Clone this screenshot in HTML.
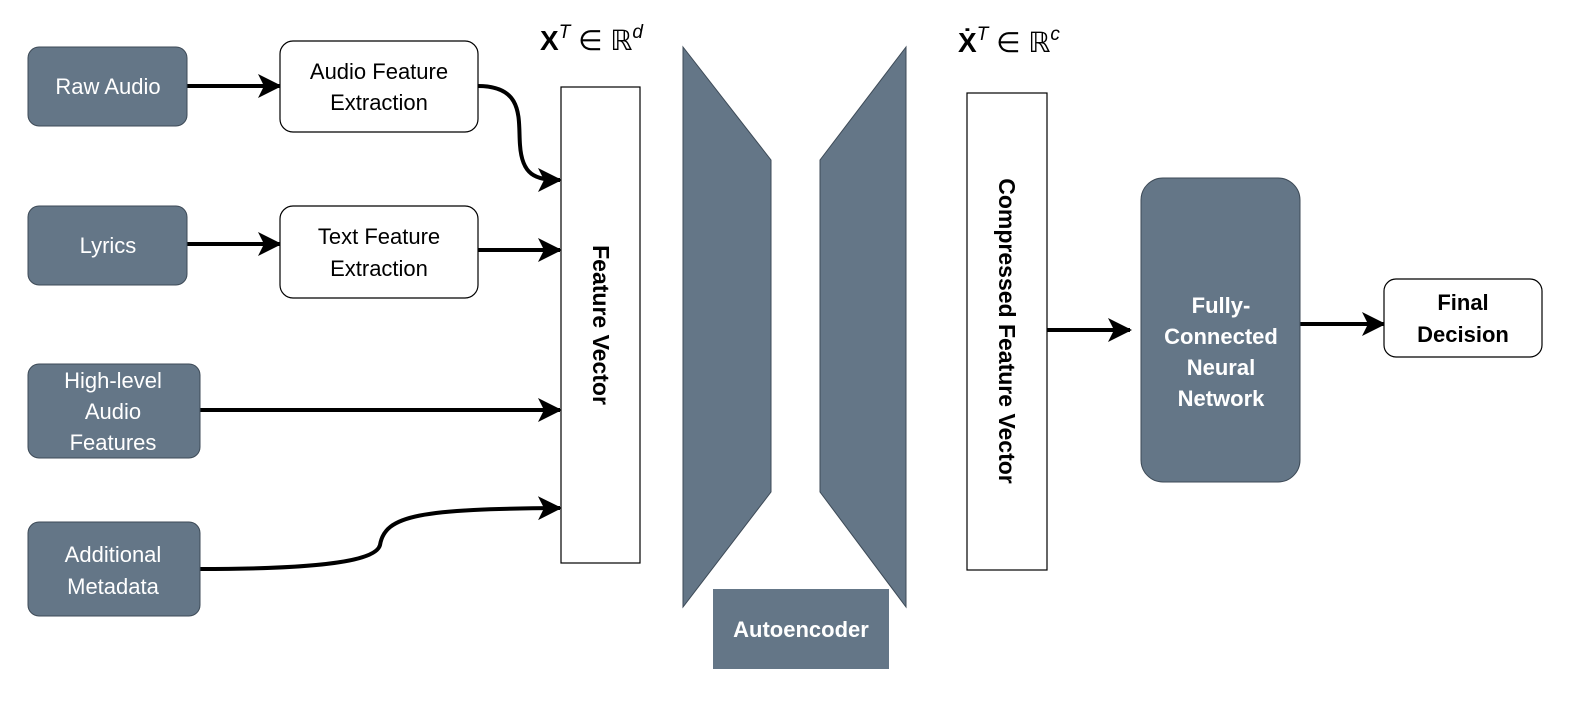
<!DOCTYPE html>
<html><head><meta charset="utf-8"><style>
html,body{margin:0;padding:0;background:#fff;}
svg{display:block;}
text{font-family:"Liberation Sans",sans-serif;}
</style></head><body>
<svg width="1594" height="702" viewBox="0 0 1594 702" xmlns="http://www.w3.org/2000/svg">
<defs>
<marker id="a" markerWidth="26" markerHeight="26" refX="22" refY="12" orient="auto" markerUnits="userSpaceOnUse" viewBox="0 0 26 24">
<path d="M0,0 L24,12 L0,24 L6,12 Z" fill="#000"/>
</marker>
</defs>
<g stroke="#000" stroke-width="4" fill="none" marker-end="url(#a)">
<path d="M187,86 L280,86" />
<path d="M478,86 C525,86 518,120 520,145 C522,175 535,180 560,180" />
<path d="M187,244 L280,244" />
<path d="M478,250 L560,250" />
<path d="M200,410 L560,410" />
<path d="M200,569 C290,569 375,565 380,545 C385,515 420,509 560,508" />
<path d="M1047,330 L1130,330" />
<path d="M1300,324 L1384,324" />
</g>
<g fill="#647687" stroke="#3d4a57" stroke-width="1">
<rect x="28" y="47" width="159" height="79" rx="11"/>
<rect x="28" y="206" width="159" height="79" rx="11"/>
<rect x="28" y="364" width="172" height="94" rx="11"/>
<rect x="28" y="522" width="172" height="94" rx="11"/>
<rect x="1141" y="178" width="159" height="304" rx="22"/>
<polygon points="683,47 771,160 771,492 683,607"/>
<polygon points="906,47 820,160 820,492 906,607"/>
</g>
<rect x="713" y="589" width="176" height="80" fill="#647687"/>
<g fill="#fff" stroke="#000" stroke-width="1.2">
<rect x="280" y="41" width="198" height="91" rx="13"/>
<rect x="280" y="206" width="198" height="92" rx="13"/>
<rect x="561" y="87" width="79" height="476"/>
<rect x="967" y="93" width="80" height="477"/>
<rect x="1384" y="279" width="158" height="78" rx="12"/>
</g>
<g fill="#fff" font-size="22" text-anchor="middle">
<text x="108" y="94">Raw Audio</text>
<text x="108" y="253">Lyrics</text>
<text x="113" y="388">High-level</text>
<text x="113" y="419">Audio</text>
<text x="113" y="450">Features</text>
<text x="113" y="562">Additional</text>
<text x="113" y="594">Metadata</text>
</g>
<g fill="#fff" font-size="22" font-weight="bold" text-anchor="middle">
<text x="1221" y="313">Fully-</text>
<text x="1221" y="344">Connected</text>
<text x="1221" y="375">Neural</text>
<text x="1221" y="406">Network</text>
<text x="801" y="637">Autoencoder</text>
</g>
<g fill="#000" font-size="22" text-anchor="middle">
<text x="379" y="79">Audio Feature</text>
<text x="379" y="110">Extraction</text>
<text x="379" y="244">Text Feature</text>
<text x="379" y="276">Extraction</text>
</g>
<g fill="#000" font-size="22" font-weight="bold" text-anchor="middle">
<text x="1463" y="310">Final</text>
<text x="1463" y="342">Decision</text>
</g>
<g fill="#000" font-size="23" font-weight="bold" text-anchor="middle">
<text transform="translate(593,325) rotate(90)">Feature Vector</text>
<text transform="translate(999,331) rotate(90)">Compressed Feature Vector</text>
</g>
<g fill="#000" font-family="Liberation Serif,serif" font-size="28">
<text x="540" y="50"><tspan font-weight="bold">X</tspan><tspan font-size="19" dy="-12" font-style="italic">T</tspan><tspan dy="12"> ∈ ℝ</tspan><tspan font-size="19" dy="-12" font-style="italic">d</tspan></text>
<text x="958" y="52"><tspan font-weight="bold">Ẋ</tspan><tspan font-size="19" dy="-12" font-style="italic">T</tspan><tspan dy="12"> ∈ ℝ</tspan><tspan font-size="19" dy="-12" font-style="italic">c</tspan></text>
</g>
</svg>
</body></html>
